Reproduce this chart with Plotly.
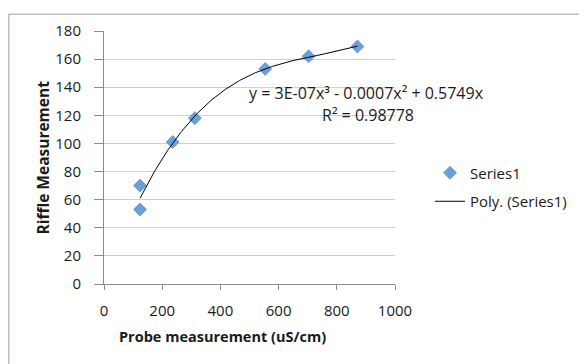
import numpy as np
import plotly.graph_objects as go

# Data
probe_us_cm = [124, 124, 236, 312, 554, 703, 871]
riffle = [70, 53, 101, 118, 153, 162, 169]
x_ticks = [0, 200, 400, 600, 800, 1000]
y_ticks = [0, 20, 40, 60, 80, 100, 120, 140, 160, 180]
series_name = "Series1"
trend_name = "Poly. (Series1)"
equation_text = "y = 3E-07x³ - 0.0007x² + 0.5749x"
r2_text = "R² = 0.98778"

OFF = 8  # page body margin
W, H = 587 - OFF, 364 - OFF
# plot area in reference pixel coords
PX0, PX1, PY0, PY1 = 104, 395, 26, 284
L, R, T, B = PX0 - OFF, W - (PX1 - OFF), PY0 - OFF, H - (PY1 - OFF)
pw, ph = PX1 - PX0, PY1 - PY0

def px(xpix):
    return (xpix - PX0) / pw

def py(ypix):
    return (PY1 - ypix) / ph

# cubic trendline through origin (least squares), evaluated along data range
xa = np.array(probe_us_cm, float)
ya = np.array(riffle, float)
A = np.vstack([xa**3, xa**2, xa]).T
coef, *_ = np.linalg.lstsq(A, ya, rcond=None)
xt = np.linspace(xa.min(), xa.max(), 200)
yt = coef[0] * xt**3 + coef[1] * xt**2 + coef[2] * xt

FONT = "Open Sans"
TXT = "#1a1a1a"
fig = go.Figure()
fig.add_trace(go.Scatter(
    x=probe_us_cm, y=riffle, mode="markers", name=series_name,
    marker=dict(symbol="diamond", size=10, color="#6A9FDA",
                line=dict(color="#4F81BD", width=0.6)),
    legendgroup="a",
))
fig.add_trace(go.Scatter(
    x=xt, y=yt, mode="lines", name=trend_name,
    line=dict(color="black", width=1), legendgroup="b",
))

axis_common = dict(showline=True, linecolor="#8C8C8C", linewidth=1,
                   ticks="outside", tickcolor="#8C8C8C",
                   tickfont=dict(family=FONT, size=15, color=TXT),
                   zeroline=False)
fig.update_xaxes(range=[0, 1000], tickvals=x_ticks, showgrid=False, ticklen=5,
                 ticklabelstandoff=8, **axis_common)
fig.update_yaxes(range=[0, 180], tickvals=y_ticks, showgrid=True, ticklen=9,
                 ticklabelstandoff=10,
                 gridcolor="#D0D0D0", gridwidth=1, **axis_common)

fig.update_layout(
    width=W, height=H,
    margin=dict(l=L, r=R, t=T, b=B),
    paper_bgcolor="white", plot_bgcolor="white",
    font=dict(family=FONT, size=14, color=TXT),
    showlegend=True,
    legend=dict(x=px(430), y=py(154), xanchor="left", yanchor="top",
                font=dict(family=FONT, size=15, color=TXT),
                tracegroupgap=6, itemwidth=30, bgcolor="rgba(0,0,0,0)"),
    shapes=[dict(type="rect", xref="paper", yref="paper",
                 x0=px(8.8), x1=px(600), y0=py(380), y1=py(8.8),
                 line=dict(color="#BEBEBE", width=1.5), fillcolor="rgba(0,0,0,0)",
                 layer="below")],
    annotations=[
        dict(text=equation_text, xref="paper", yref="paper", x=px(366), y=py(89),
             showarrow=False, xanchor="center", yanchor="middle",
             font=dict(family=FONT, size=16, color=TXT)),
        dict(text=r2_text, xref="paper", yref="paper", x=px(368), y=py(112),
             showarrow=False, xanchor="center", yanchor="middle",
             font=dict(family=FONT, size=16, color=TXT)),
        dict(text="<b>Probe measurement (uS/cm)</b>", xref="paper", yref="paper",
             x=px(222), y=py(338), showarrow=False, xanchor="center", yanchor="middle",
             font=dict(family=FONT, size=14.5, color=TXT)),
        dict(text="<b>Riffle Measurement</b>", xref="paper", yref="paper",
             x=px(42), y=py(155), showarrow=False, xanchor="center", yanchor="middle",
             textangle=-90, font=dict(family=FONT, size=15.5, color=TXT)),
    ],
)

fig.write_html("out.html")
